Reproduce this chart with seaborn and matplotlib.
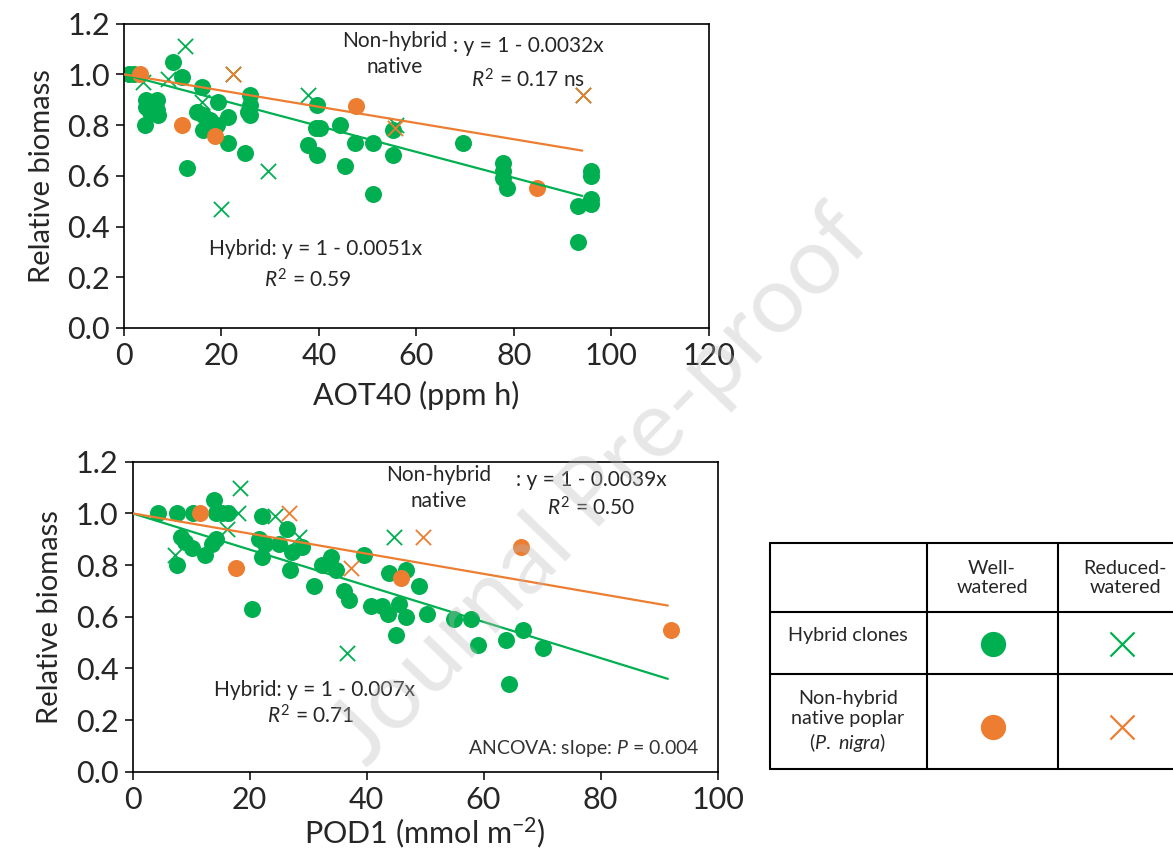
import matplotlib
matplotlib.use("Agg")
import matplotlib.pyplot as plt
import seaborn as sns

# Colours (Excel-like green / orange)
green = "#00B050"
orange = "#ED7D31"

# ---- AOT40 panel data ----
hyb_well_aot_x = [1, 2, 10, 12, 16, 4.6, 6.7, 4.6, 6.7, 7.0, 4.3, 5.3, 14.9, 16.3, 19.3, 17.7, 16.3,
                  19.0, 21.4, 21.4, 12.9, 24.8, 25.8, 25.8, 25.5, 25.8, 39.5, 39.3, 40.3, 37.8, 39.5,
                  44.3, 47.4, 45.3, 51.1, 51.1, 55.2, 55.2, 69.5, 77.7, 77.8, 77.8, 78.6, 95.9, 95.9,
                  95.9, 95.9, 93.2, 93.2]
hyb_well_aot_y = [1.0, 1.0, 1.05, 0.99, 0.95, 0.90, 0.90, 0.87, 0.86, 0.84, 0.80, 0.85, 0.85, 0.84, 0.89,
                  0.82, 0.78, 0.80, 0.83, 0.73, 0.63, 0.69, 0.92, 0.88, 0.85, 0.84, 0.88, 0.79, 0.79,
                  0.72, 0.68, 0.80, 0.73, 0.64, 0.73, 0.53, 0.78, 0.68, 0.73, 0.65, 0.62, 0.59, 0.55,
                  0.62, 0.60, 0.51, 0.49, 0.48, 0.34]
hyb_red_aot_x = [12.5, 4.0, 9.1, 16.1, 22.4, 37.8, 29.6, 20.0, 55.9, 94.2]
hyb_red_aot_y = [1.11, 0.97, 0.98, 0.89, 1.0, 0.92, 0.62, 0.47, 0.80, 0.92]
nat_well_aot_x = [3.3, 11.8, 18.7, 47.6, 84.7]
nat_well_aot_y = [1.0, 0.80, 0.755, 0.875, 0.55]
nat_red_aot_x = [22.4, 55.6, 94.2]
nat_red_aot_y = [1.0, 0.79, 0.92]
slope_hyb_aot = 0.0051
slope_nat_aot = 0.0032
fit_range_aot = [0, 94]

# ---- POD1 panel data ----
hyb_well_pod_x = [4.4, 7.6, 10.4, 13.9, 14.2, 15.3, 16.4, 8.3, 9.0, 10.1, 12.4, 13.6, 14.2, 7.6, 22.1,
                  26.4, 21.6, 22.7, 22.1, 25.0, 27.3, 29.0, 27.0, 20.4, 32.4, 33.9, 34.7, 31.0, 36.1,
                  37.0, 39.6, 40.7, 42.7, 43.6, 43.9, 46.7, 49.0, 45.6, 46.7, 50.4, 45.0, 55.0, 57.9,
                  59.0, 63.9, 66.7, 70.2, 64.4]
hyb_well_pod_y = [1.0, 1.0, 1.0, 1.05, 1.0, 1.0, 1.0, 0.91, 0.89, 0.865, 0.84, 0.88, 0.90, 0.80, 0.99,
                  0.94, 0.90, 0.88, 0.83, 0.88, 0.85, 0.87, 0.78, 0.63, 0.80, 0.83, 0.78, 0.72, 0.70,
                  0.665, 0.84, 0.64, 0.64, 0.61, 0.77, 0.78, 0.72, 0.65, 0.60, 0.61, 0.53, 0.59, 0.59,
                  0.49, 0.51, 0.55, 0.48, 0.34]
hyb_red_pod_x = [18.4, 18.1, 16.2, 24.4, 28.4, 44.7, 36.7, 7.3]
hyb_red_pod_y = [1.10, 1.0, 0.94, 0.99, 0.91, 0.91, 0.46, 0.84]
nat_well_pod_x = [11.6, 17.6, 45.9, 66.4, 92.1]
nat_well_pod_y = [1.0, 0.79, 0.75, 0.87, 0.55]
nat_red_pod_x = [26.7, 37.3, 49.7]
nat_red_pod_y = [1.0, 0.79, 0.91]
slope_hyb_pod = 0.007
slope_nat_pod = 0.0039
fit_range_pod = [0, 91.5]

sns.set_style("ticks")
plt.rcParams['font.family'] = ['Lato', 'DejaVu Sans']
plt.rcParams['mathtext.fontset'] = 'custom'
plt.rcParams['mathtext.rm'] = 'Lato'
plt.rcParams['mathtext.it'] = 'Lato:italic'

fig = plt.figure(figsize=(11.73, 8.55), dpi=100)
ax1 = fig.add_axes([0.1057, 0.6164, 0.4987, 0.356])
ax2 = fig.add_axes([0.1130, 0.0974, 0.4987, 0.3626])


def draw_panel(ax, hw, hr, nw, nr, slopes, fit_range):
    sns.scatterplot(x=hw[0], y=hw[1], ax=ax, color=green, s=150, linewidth=0, marker="o", zorder=2)
    sns.scatterplot(x=hr[0], y=hr[1], ax=ax, color=green, s=120, linewidth=1.3, marker="x", zorder=3)
    sns.scatterplot(x=nw[0], y=nw[1], ax=ax, color=orange, s=150, linewidth=0, marker="o", zorder=4)
    sns.scatterplot(x=nr[0], y=nr[1], ax=ax, color=orange, s=120, linewidth=1.3, marker="x", zorder=5)
    # trend lines forced through 1 at x = 0
    sns.lineplot(x=fit_range, y=[1 - slopes[0] * v for v in fit_range], ax=ax, color=green, lw=1.6, zorder=6)
    sns.lineplot(x=fit_range, y=[1 - slopes[1] * v for v in fit_range], ax=ax, color=orange, lw=1.6, zorder=6)
    ax.set_ylim(0, 1.2)
    ax.set_yticks([0, 0.2, 0.4, 0.6, 0.8, 1.0, 1.2])
    ax.set_yticklabels(["0.0", "0.2", "0.4", "0.6", "0.8", "1.0", "1.2"])
    ax.tick_params(labelsize=22, length=6, width=1.1, color="black", pad=4)
    for sp in ax.spines.values():
        sp.set_linewidth(1.2)
        sp.set_color("black")
    ax.set_ylabel("Relative biomass", fontsize=21, labelpad=9)


draw_panel(ax1, (hyb_well_aot_x, hyb_well_aot_y), (hyb_red_aot_x, hyb_red_aot_y),
           (nat_well_aot_x, nat_well_aot_y), (nat_red_aot_x, nat_red_aot_y),
           (slope_hyb_aot, slope_nat_aot), fit_range_aot)
ax1.set_xlim(0, 120)
ax1.set_xticks([0, 20, 40, 60, 80, 100, 120])
ax1.set_xlabel("AOT40 (ppm h)", fontsize=22, labelpad=8)

draw_panel(ax2, (hyb_well_pod_x, hyb_well_pod_y), (hyb_red_pod_x, hyb_red_pod_y),
           (nat_well_pod_x, nat_well_pod_y), (nat_red_pod_x, nat_red_pod_y),
           (slope_hyb_pod, slope_nat_pod), fit_range_pod)
ax2.set_xlim(0, 100)
ax2.set_xticks([0, 20, 40, 60, 80, 100])
ax2.set_xlabel("POD1 (mmol m$^{-2}$)", fontsize=22, labelpad=1)

# annotations
fs = 15
ax1.text(55.6, 1.13, "Non-hybrid", ha="center", va="center", fontsize=fs)
ax1.text(55.6, 1.03, "native", ha="center", va="center", fontsize=fs)
ax1.text(67.5, 1.11, ": y = 1 - 0.0032x", ha="left", va="center", fontsize=fs)
ax1.text(82.9, 0.98, "$\\mathit{R}^2$ = 0.17 ns", ha="center", va="center", fontsize=fs)
ax1.text(39.2, 0.31, "Hybrid: y = 1 - 0.0051x", ha="center", va="center", fontsize=fs)
ax1.text(37.7, 0.19, "$\\mathit{R}^2$ = 0.59", ha="center", va="center", fontsize=fs)

ax2.text(52.4, 1.15, "Non-hybrid", ha="center", va="center", fontsize=fs)
ax2.text(52.4, 1.048, "native", ha="center", va="center", fontsize=fs)
ax2.text(65.6, 1.13, ": y = 1 - 0.0039x", ha="left", va="center", fontsize=fs)
ax2.text(78.4, 1.02, "$\\mathit{R}^2$ = 0.50", ha="center", va="center", fontsize=fs)
ax2.text(31.1, 0.316, "Hybrid: y = 1 - 0.007x", ha="center", va="center", fontsize=fs)
ax2.text(30.4, 0.216, "$\\mathit{R}^2$ = 0.71", ha="center", va="center", fontsize=fs)
ax2.text(97, 0.09, "ANCOVA: slope: $\\mathit{P}$ = 0.004", ha="right", va="center", fontsize=14, color="#333333")

# legend table, drawn in figure pixel coordinates
axt = fig.add_axes([0, 0, 1, 1], zorder=-1)
axt.set_xlim(0, 1173)
axt.set_ylim(855, 0)
axt.axis("off")
row_edges = [543.3, 611.7, 674, 769.3]
col_edges = [770, 926.7, 1058.3, 1200]
for r in row_edges:
    axt.plot([col_edges[0], col_edges[-1]], [r, r], color="black", lw=1.5)
for c in col_edges:
    axt.plot([c, c], [row_edges[0], row_edges[-1]], color="black", lw=1.5)
tfs = 14.2
axt.text(992, 578, "Well-\nwatered", ha="center", va="center", fontsize=tfs, linespacing=1.2)
axt.text(1125, 578, "Reduced-\nwatered", ha="center", va="center", fontsize=tfs, linespacing=1.2)
axt.text(848, 635, "Hybrid clones", ha="center", va="center", fontsize=tfs)
axt.text(848, 722, "Non-hybrid\nnative poplar\n($\\mathit{P.\\ nigra}$)", ha="center", va="center",
         fontsize=tfs, linespacing=1.2)
axt.scatter([993], [644], s=330, color=green, linewidths=0)
axt.scatter([1122], [644], s=300, color=green, marker="x", linewidths=1.6)
axt.scatter([993], [727], s=330, color=orange, linewidths=0)
axt.scatter([1122], [727], s=300, color=orange, marker="x", linewidths=1.6)

# watermark
fig.text(0.513, 0.43, "Journal Pre-proof", rotation=46, fontsize=68, color="#bbbbbb", alpha=0.35,
         ha="center", va="center", zorder=10)

fig.savefig("out.png", dpi=100)
